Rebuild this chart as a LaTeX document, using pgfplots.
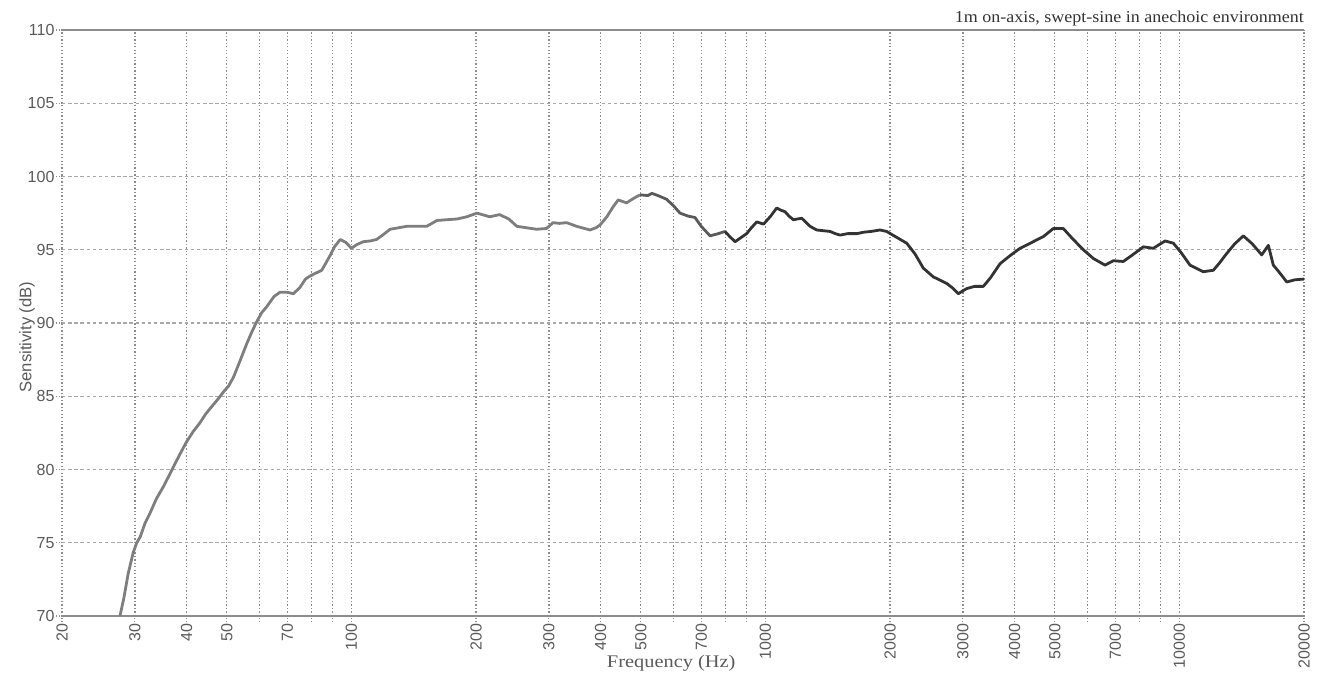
\documentclass[border=0pt]{standalone}
\usepackage{fontspec}
\setsansfont{Liberation Sans}
\newfontfamily\labelserif[FakeStretch=1.15]{Liberation Serif}
\newfontfamily\titleserif[FakeStretch=1.08]{Liberation Serif}
\usepackage{pgfplots}
\pgfplotsset{compat=1.18}

\definecolor{gridv}{HTML}{8C8C8C}
\definecolor{gridh}{HTML}{A8A8A8}
\definecolor{ticktxt}{HTML}{5A5A5A}
\definecolor{curveA}{HTML}{7E7E7E}
\definecolor{curveB}{HTML}{5A5A5A}
\definecolor{curveC}{HTML}{333333}

\begin{document}
\begin{tikzpicture}
  % fixed page: 1317 x 679 px at 0.75 pt per px
  \useasboundingbox (-46.5pt,-47.25pt) rectangle (941.25pt,462pt);
  \begin{axis}[
      at={(0,0)}, anchor=south west,
      scale only axis,
      width=931.5pt, height=439.5pt,
      xmode=log,
      xmin=20, xmax=20000,
      ymin=70, ymax=110,
      xtick={20,30,40,50,70,100,200,300,400,500,700,1000,2000,3000,4000,5000,7000,10000,20000},
      xticklabels={20,30,40,50,70,100,200,300,400,500,700,1000,2000,3000,4000,5000,7000,10000,20000},
      minor xtick={60,80,90,600,800,900,6000,8000,9000},
      ytick={70,75,...,110},
      xtick pos=bottom, ytick pos=left,
      tick align=outside,
      major tick length=4.5pt, minor tick length=4.5pt,
      tick style={gridv, line width=0.8pt, dash pattern=on 1pt off 1pt},
      grid=both,
      major x grid style={gridv, line width=0.9pt, dash pattern=on 1pt off 1.6pt},
      minor x grid style={gridv, line width=0.9pt, dash pattern=on 1pt off 1.6pt},
      major y grid style={gridh, line width=0.8pt, dash pattern=on 2.6pt off 2pt},
      axis line style={draw=none},
      tick label style={font=\sffamily\fontsize{12}{14}\selectfont, text=ticktxt},
      /pgf/number format/assume math mode=true,
      xticklabel style={rotate=90, anchor=east, inner sep=1pt},
      yticklabel style={inner sep=1pt},
      clip=false,
    ]
    % solid top and bottom frame lines
    \draw[gridv, line width=1.5pt] (rel axis cs:0,0) -- (rel axis cs:1,0);
    \draw[gridv, line width=1.5pt] (rel axis cs:0,1) -- (rel axis cs:1,1);

    % response, low frequencies (lighter grey)
    \addplot[curveA, line width=2.1pt, line join=round] coordinates {
      (27.6,70.0)(28.2,71.2)(28.9,72.9)(29.7,74.3)(30.3,75.0)(30.9,75.4)
      (31.7,76.3)(32.6,77.0)(33.8,78.0)(35.1,78.8)(36.3,79.6)(37.5,80.4)
      (38.8,81.2)(40.0,81.9)(41.5,82.6)(43.1,83.2)(44.5,83.8)(46,84.3)
      (47.6,84.8)(49.1,85.3)(50.5,85.7)(51.9,86.3)(53.8,87.4)(55.9,88.6)
      (57.5,89.4)(59.1,90.1)(60.7,90.7)(62.4,91.1)(65,91.8)(67.2,92.1)
      (70,92.1)(72.4,92.0)(75,92.4)(77.5,93.0)(79.4,93.2)(82,93.4)
      (84.8,93.6)(86.8,94.1)(88.8,94.6)(91,95.2)(94,95.7)(97,95.5)
      (100,95.1)(103,95.35)(106.9,95.55)(111,95.6)(115,95.7)(119,96.0)
      (124,96.4)(130,96.5)(136,96.6)(144,96.6)(152,96.6)(161,97.0)
      (170,97.05)(180,97.1)(190,97.25)(201,97.5)(216,97.25)(228,97.4)
      (240,97.1)(251,96.6)(265,96.5)(280,96.4)(296,96.45)(307,96.85)
      (318,96.8)(331,96.85)(350,96.6)(377,96.35)(390,96.5)(399,96.7)
      (414,97.25)(428,97.9)(441,98.4)(462,98.2)(480,98.5)(498,98.75)
    };
    % mid band
    \addplot[curveB, line width=2.1pt, line join=round] coordinates {
      (498,98.75)(520,98.7)(532,98.85)(550,98.7)(577,98.45)(600,98.0)
      (622,97.5)(650,97.3)(676,97.2)(700,96.6)(735,95.95)(770,96.1)
      (799,96.25)
    };
    % high frequencies (dark)
    \addplot[curveC, line width=2.1pt, line join=round] coordinates {
      (799,96.25)(820,95.9)(845,95.55)(870,95.8)(901,96.1)(925,96.5)
      (953,96.9)(990,96.75)(1030,97.3)(1065,97.85)(1090,97.7)(1115,97.6)
      (1140,97.3)(1168,97.05)(1195,97.1)(1224,97.15)(1250,96.9)(1282,96.6)
      (1330,96.35)(1380,96.3)(1433,96.25)(1475,96.1)(1515,96.0)(1580,96.1)
      (1662,96.1)(1730,96.2)(1800,96.25)(1892,96.35)(1963,96.25)(2060,95.9)
      (2194,95.45)(2300,94.7)(2406,93.75)(2544,93.15)(2742,92.7)(2830,92.4)
      (2925,92.0)(3000,92.2)(3065,92.35)(3200,92.5)(3361,92.5)(3500,93.1)
      (3689,94.05)(3900,94.6)(4122,95.1)(4400,95.5)(4693,95.9)(4962,96.45)
      (5243,96.45)(5500,95.8)(5861,95.0)(6200,94.4)(6613,93.95)(6925,94.25)
      (7322,94.2)(7750,94.7)(8184,95.2)(8650,95.1)(9233,95.6)(9668,95.45)
      (10100,94.8)(10607,93.95)(11421,93.5)(12078,93.6)(12500,94.1)
      (13014,94.75)(13600,95.4)(14271,95.95)(15000,95.4)(15807,94.65)
      (16400,95.3)(16860,93.95)(17500,93.4)(18170,92.8)(19020,92.95)
      (20000,93.0)
    };

    % labels and caption
    \node[anchor=base, font=\labelserif\fontsize{13.3}{15}\selectfont, text=ticktxt]
      at (rel axis cs:0.4905,0) [yshift=-38.25pt] {Frequency (Hz)};
    \node[rotate=90, anchor=center, font=\sffamily\fontsize{12.5}{14}\selectfont, text=ticktxt]
      at (rel axis cs:-0.0282,0.476) {Sensitivity (dB)};
    \node[anchor=base east, inner sep=0pt, font=\titleserif\fontsize{12.5}{14}\selectfont, text=black!80]
      at (rel axis cs:1,1) [yshift=6pt] {1m on-axis, swept-sine in anechoic environment};
  \end{axis}
\end{tikzpicture}
\end{document}
